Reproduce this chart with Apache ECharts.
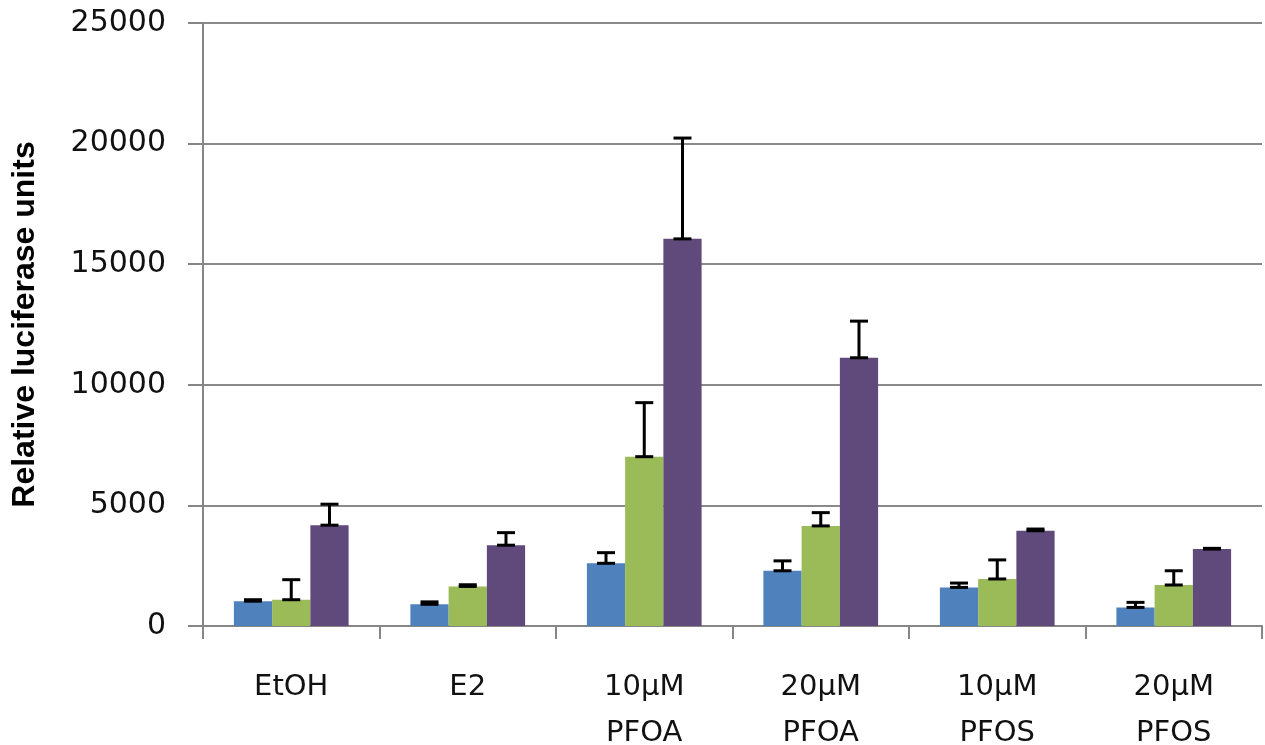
<!DOCTYPE html>
<html>
<head>
<meta charset="utf-8">
<script src="https://cdn.jsdelivr.net/npm/echarts@6/dist/echarts.min.js"></script>
<style>
html,body{margin:0;padding:0;background:#fff;}
#chart{width:1265px;height:745px;}
</style>
</head>
<body>
<div id="chart"></div>
<script>
const categories = ['EtOH', 'E2', '10µM\nPFOA', '20µM\nPFOA', '10µM\nPFOS', '20µM\nPFOS'];
const yTicks = [0, 5000, 10000, 15000, 20000, 25000];
const blueValues = [1030, 900, 2600, 2290, 1600, 770];
const blueErrors = [60, 100, 440, 410, 180, 210];
const greenValues = [1090, 1640, 7020, 4150, 1950, 1700];
const greenErrors = [830, 70, 2240, 550, 790, 590];
const purpleValues = [4180, 3350, 16050, 11120, 3950, 3190];
const purpleErrors = [870, 520, 4180, 1520, 70, 30];

const colors = ['#4F81BD', '#9BBB59', '#604A7B'];
const gapPct = 0.35;
const seriesVals = [blueValues, greenValues, purpleValues];
const seriesErrs = [blueErrors, greenErrors, purpleErrors];

function errorSeries(k) {
  const data = categories.map((c, i) => [i, seriesVals[k][i], seriesVals[k][i] + seriesErrs[k][i]]);
  return {
    type: 'custom',
    z: 10,
    silent: true,
    encode: { x: 0, y: [1, 2] },
    data: data,
    renderItem: function (params, api) {
      const idx = api.value(0);
      const v = api.value(1);
      const top = api.value(2);
      const catW = api.size([1, 0])[0];
      const barW = catW * (1 - gapPct) / 3;
      const cx = api.coord([idx, 0])[0] + (k - 1) * barW;
      const y1 = api.coord([idx, v])[1];
      const y2 = api.coord([idx, top])[1];
      const hw = 9;
      const st = { stroke: '#000', lineWidth: 3 };
      return {
        type: 'group',
        children: [
          { type: 'line', shape: { x1: cx, y1: y1, x2: cx, y2: y2 }, style: st },
          { type: 'line', shape: { x1: cx - hw, y1: y2, x2: cx + hw, y2: y2 }, style: st },
          { type: 'line', shape: { x1: cx - hw, y1: y1, x2: cx + hw, y2: y1 }, style: st }
        ]
      };
    }
  };
}

const chart = echarts.init(document.getElementById('chart'), null, { renderer: 'canvas' });
chart.setOption({
  animation: false,
  backgroundColor: '#fff',
  grid: { left: 203, right: 3, top: 23, bottom: 119, containLabel: false, outerBoundsMode: 'none' },
  xAxis: {
    type: 'category',
    data: categories,
    axisLine: { lineStyle: { color: '#868686', width: 2 } },
    axisTick: { show: true, length: 13, lineStyle: { color: '#868686', width: 2 } },
    axisLabel: {
      fontFamily: 'DejaVu Sans', fontSize: 29, color: '#111', margin: 38, lineHeight: 46
    }
  },
  yAxis: {
    type: 'value',
    min: 0, max: 25000, interval: 5000,
    name: 'Relative luciferase units',
    nameLocation: 'middle',
    nameGap: 162,
    nameTextStyle: { fontFamily: 'Liberation Sans', fontWeight: 'bold', fontSize: 32, color: '#000' },
    axisLine: { show: true, lineStyle: { color: '#868686', width: 2 } },
    axisTick: { show: true, length: 15, lineStyle: { color: '#868686', width: 2 } },
    axisLabel: {
      fontFamily: 'DejaVu Sans', fontSize: 30, color: '#111', margin: 37,
      formatter: function (v) { return yTicks.indexOf(v) >= 0 ? String(v) : ''; }
    },
    splitLine: { lineStyle: { color: '#8a8a8a', width: 2 } }
  },
  series: [
    { type: 'bar', data: blueValues, barGap: '0%', barCategoryGap: (gapPct * 100) + '%', itemStyle: { color: colors[0] } },
    { type: 'bar', data: greenValues, barGap: '0%', barCategoryGap: (gapPct * 100) + '%', itemStyle: { color: colors[1] } },
    { type: 'bar', data: purpleValues, barGap: '0%', barCategoryGap: (gapPct * 100) + '%', itemStyle: { color: colors[2] } },
    errorSeries(0), errorSeries(1), errorSeries(2)
  ]
});
</script>
</body>
</html>
